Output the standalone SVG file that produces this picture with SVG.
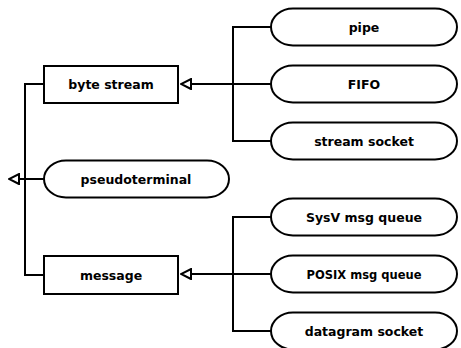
<svg xmlns="http://www.w3.org/2000/svg" width="461" height="348" viewBox="0 0 461 348">
<defs>
<style>
.box{fill:#fff;stroke:#000;stroke-width:2}
.term{fill:#fff;stroke:#000;stroke-width:2}
.lbl{font-family:"DejaVu Sans",sans-serif;font-weight:bold;font-size:12.5px;text-anchor:middle;fill:#000}
.sm{font-size:11.5px}
.con{fill:none;stroke:#000;stroke-width:2}
</style>
<marker id="tri" viewBox="0 0 12 12" refX="11" refY="6" markerWidth="12" markerHeight="12" markerUnits="userSpaceOnUse" orient="auto">
<path d="M1,1 L11,6 L1,11 Z" fill="#fff" stroke="#000" stroke-width="2"/>
</marker>
</defs>
<rect width="461" height="348" fill="#fff"/>
<g id="connectors">
<path class="con" d="M271,27 H233 V141 H271 M271,84 H181" marker-end="url(#tri)"/>
<path class="con" d="M271,217 H233 V331 H271 M271,274 H181" marker-end="url(#tri)"/>
<path class="con" d="M44,84 H25 V275 H44"/>
<path class="con" d="M44,179 H9" marker-end="url(#tri)"/>
</g>
<g id="byte-stream"><rect class="box" x="44" y="66" width="134" height="37"/><text class="lbl" x="111" y="89">byte stream</text></g>
<g id="message"><rect class="box" x="44" y="256" width="134" height="38"/><text class="lbl" x="111" y="280">message</text></g>
<g id="pseudoterminal"><rect class="term" x="44" y="160.5" width="185" height="37" rx="22" ry="18.5"/><text class="lbl" x="136" y="184">pseudoterminal</text></g>
<g id="pipe"><rect class="term" x="271" y="8.5" width="186" height="37" rx="22" ry="18.5"/><text class="lbl" x="364" y="32">pipe</text></g>
<g id="fifo"><rect class="term" x="271" y="65.5" width="186" height="37" rx="22" ry="18.5"/><text class="lbl" x="364" y="89">FIFO</text></g>
<g id="stream-socket"><rect class="term" x="271" y="122.5" width="186" height="37" rx="22" ry="18.5"/><text class="lbl" x="364" y="146">stream socket</text></g>
<g id="sysv"><rect class="term" x="271" y="198.5" width="186" height="37" rx="22" ry="18.5"/><text class="lbl" x="364" y="222">SysV msg queue</text></g>
<g id="posix"><rect class="term" x="271" y="255.5" width="186" height="37" rx="22" ry="18.5"/><text class="lbl sm" x="364" y="278.5">POSIX msg queue</text></g>
<g id="datagram"><rect class="term" x="271" y="312.5" width="186" height="37" rx="22" ry="18.5"/><text class="lbl" x="364" y="336">datagram socket</text></g>
</svg>
